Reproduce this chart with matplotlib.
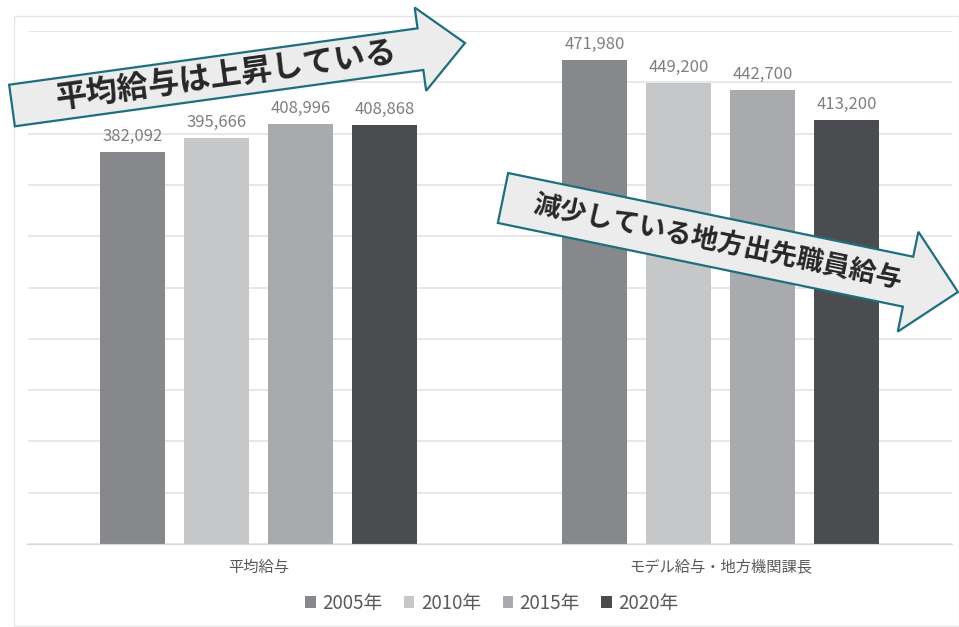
import numpy as np
import matplotlib
matplotlib.use("Agg")
import matplotlib.pyplot as plt
from matplotlib.patches import Polygon, Rectangle

plt.rcParams['font.family'] = ['Noto Sans CJK JP', 'DejaVu Sans']

# データ
categories = ["平均給与", "モデル給与・地方機関課長"]
years = ["2005年", "2010年", "2015年", "2020年"]
values = {
    "2005年": [382092, 471980],
    "2010年": [395666, 449200],
    "2015年": [408996, 442700],
    "2020年": [408868, 413200],
}
colors = ["#87888c", "#c6c7c9", "#a9aaad", "#4b4c4f"]

W, H = 959, 627
fig = plt.figure(figsize=(W / 100, H / 100), dpi=100)
ax = fig.add_axes([27.5 / W, 1 - 544 / H, 924 / W, 513 / H])

x = np.arange(len(categories))
step = 0.182
width = 0.141
for i, (yr, c) in enumerate(zip(years, colors)):
    pos = x + (i - 1.5) * step
    bars = ax.bar(pos, values[yr], width=width, color=c, label=yr, zorder=2)
    for b, v in zip(bars, values[yr]):
        ax.annotate(f"{v:,}", (b.get_x() + b.get_width() / 2, v),
                    xytext=(0, 5), textcoords="offset points",
                    ha="center", va="bottom", fontsize=12, color="#7f7f7f")

ax.set_xlim(-0.5, 1.5)
ax.set_ylim(0, 500000)
ax.set_yticks(np.arange(0, 500001, 50000))
ax.yaxis.grid(True, color="#e3e3e3", linewidth=1.2, zorder=0)
ax.set_axisbelow(True)
ax.tick_params(left=False, bottom=False, labelleft=False)
ax.set_xticks(x)
ax.set_xticklabels(categories, fontsize=11, color="#595959")
ax.tick_params(axis="x", pad=7)
for s in ["top", "right", "left"]:
    ax.spines[s].set_visible(False)
ax.spines["bottom"].set_color("#d9d9d9")

leg = ax.legend(loc="center", bbox_to_anchor=(492 / W, 1 - 603 / H),
                bbox_transform=fig.transFigure, ncol=4, frameon=False,
                fontsize=13.5, handlelength=0.55, handleheight=0.55,
                handletextpad=0.35, columnspacing=1.15)
for t in leg.get_texts():
    t.set_color("#595959")

# 外枠
fig.add_artist(Rectangle((14 / W, 1 - 626 / H), (W - 14) / W, 610 / H,
                         transform=fig.transFigure, fill=False,
                         edgecolor="#e6e6e6", linewidth=1))


def px(pts):
    return [(p[0] / W, 1 - p[1] / H) for p in pts]


def block_arrow(tail, tip, w, hw, hl, text, fs, shift):
    tail = np.array(tail, float)
    tip = np.array(tip, float)
    u = (tip - tail) / np.linalg.norm(tip - tail)
    n = np.array([-u[1], u[0]])
    base = tip - u * hl
    pts = [tail + n * w / 2, base + n * w / 2, base + n * hw / 2, tip,
           base - n * hw / 2, base - n * w / 2, tail - n * w / 2]
    fig.add_artist(Polygon(px(pts), closed=True, transform=fig.transFigure,
                           facecolor="#ececec", edgecolor="#1f6e7e",
                           linewidth=1.6, zorder=5))
    ang = np.degrees(np.arctan2(-(tip[1] - tail[1]), tip[0] - tail[0]))
    c = tail + u * (np.linalg.norm(base - tail) / 2 + shift)
    fig.text(c[0] / W, 1 - c[1] / H, text, rotation=ang,
             rotation_mode="anchor", ha="center", va="center",
             fontsize=fs, fontweight="bold", color="#262626", zorder=6)


block_arrow((12, 105.5), (465, 43), 42, 84, 45, "平均給与は上昇している", 22.5, 10)
block_arrow((503, 198), (958, 292), 51, 102, 51, "減少している地方出先職員給与", 19.4, 12)

fig.savefig("out.png", dpi=100)
